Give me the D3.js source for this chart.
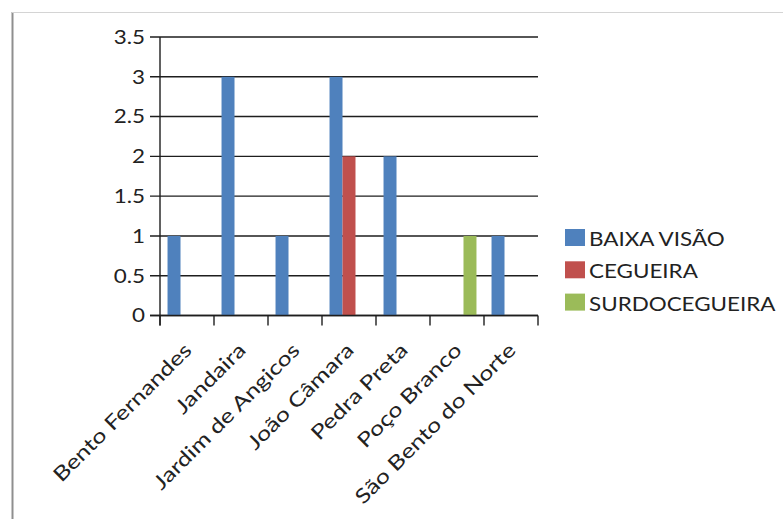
<!DOCTYPE html>
<html>
<head>
<meta charset="utf-8">
<script src="https://cdn.jsdelivr.net/npm/d3@7"></script>
<style>
  html, body { margin: 0; padding: 0; background: #fff; }
  svg { display: block; }
  text { font-family: Lato, "Open Sans", sans-serif; fill: #222; }
</style>
</head>
<body>
<svg id="chart" width="783" height="519"></svg>
<script>
// Municipalities on the x axis
const categories = ["Bento Fernandes", "Jandaira", "Jardim de Angicos", "João Câmara",
                    "Pedra Preta", "Poço Branco", "São Bento do Norte"];
// Series names and counts per municipality
const seriesNames = ["BAIXA VISÃO", "CEGUEIRA", "SURDOCEGUEIRA"];
const baixaVisao    = [1, 3, 1, 3, 2, 0, 1];
const cegueira      = [0, 0, 0, 2, 0, 0, 0];
const surdocegueira = [0, 0, 0, 0, 0, 1, 0];
const yTicks = [0, 0.5, 1, 1.5, 2, 2.5, 3, 3.5];

const colors = ["#4F81BD", "#C0504D", "#9BBB59"];
const seriesValues = [baixaVisao, cegueira, surdocegueira];

const svg = d3.select("#chart");
const fontSize = 19;
const stretch = 1.18;      // widen glyphs along the text direction
const labelSize = 20;      // rotated category labels
const labelStretch = 1.25;

// Outer frame (left and top rules)
svg.append("line").attr("x1", 12.5).attr("x2", 12.5).attr("y1", 12).attr("y2", 519)
  .attr("stroke", "#8f8f8f").attr("stroke-width", 2);
svg.append("line").attr("x1", 12).attr("x2", 783).attr("y1", 12.5).attr("y2", 12.5)
  .attr("stroke", "#d4d4d4").attr("stroke-width", 1);

const plot = { left: 160, right: 538, top: 37, bottom: 315.5 };

const x0 = d3.scaleBand().domain(categories).range([plot.left, plot.right]).padding(0);
const x1 = d3.scaleBand().domain(seriesNames).range([0, x0.bandwidth()])
  .paddingInner(0).paddingOuter(0.58);
const y = d3.scaleLinear().domain([0, 3.5]).range([plot.bottom, plot.top]);

const lineColor = "#1e1e1e";

// Horizontal gridlines with left tick stubs
svg.append("g").selectAll("line").data(yTicks).join("line")
  .attr("x1", plot.left - 10).attr("x2", plot.right)
  .attr("y1", d => y(d)).attr("y2", d => y(d))
  .attr("stroke", lineColor).attr("stroke-width", 1.4);

// Y tick labels
svg.append("g").selectAll("text").data(yTicks).join("text")
  .attr("transform", d => `translate(${plot.left - 15},${y(d)}) scale(${stretch},1)`)
  .attr("text-anchor", "end").attr("dy", "0.36em")
  .style("font-size", fontSize + "px")
  .text(d => d);

// Bars
const barData = [];
categories.forEach((c, i) => {
  seriesNames.forEach((s, j) => {
    barData.push({ cat: c, series: s, value: seriesValues[j][i], color: colors[j] });
  });
});
svg.append("g").selectAll("rect").data(barData.filter(d => d.value > 0)).join("rect")
  .attr("x", d => x0(d.cat) + x1(d.series))
  .attr("width", x1.bandwidth())
  .attr("y", d => y(d.value))
  .attr("height", d => y(0) - y(d.value))
  .attr("fill", d => d.color);

// Y axis line
svg.append("line").attr("x1", plot.left).attr("x2", plot.left)
  .attr("y1", plot.top).attr("y2", plot.bottom + 10)
  .attr("stroke", lineColor).attr("stroke-width", 1.4);

// X axis baseline and category boundary ticks
svg.append("line").attr("x1", plot.left - 10).attr("x2", plot.right)
  .attr("y1", y(0)).attr("y2", y(0))
  .attr("stroke", lineColor).attr("stroke-width", 1.4);
const boundaries = categories.map(c => x0(c)).concat([x0(categories[categories.length - 1]) + x0.bandwidth()]);
svg.append("g").selectAll("line").data(boundaries).join("line")
  .attr("x1", d => d).attr("x2", d => d)
  .attr("y1", y(0)).attr("y2", y(0) + 10)
  .attr("stroke", lineColor).attr("stroke-width", 1.4);

// Rotated category labels
svg.append("g").selectAll("text").data(categories).join("text")
  .attr("transform", d => `translate(${x0(d) + x0.bandwidth() / 2 + 6},${plot.bottom + 36}) rotate(-45) scale(${labelStretch},1)`)
  .attr("text-anchor", "end")
  .style("font-size", labelSize + "px")
  .text(d => d);

// Legend
const legend = svg.append("g").attr("transform", "translate(565,229)");
const rowH = 32.3;
legend.selectAll("rect").data(seriesNames).join("rect")
  .attr("x", 0).attr("y", (d, i) => i * rowH)
  .attr("width", 20).attr("height", 17)
  .attr("fill", (d, i) => colors[i]);
legend.selectAll("text").data(seriesNames).join("text")
  .attr("transform", (d, i) => `translate(24,${i * rowH + 17}) scale(${stretch},1)`)
  .style("font-size", fontSize + "px")
  .text(d => d);
</script>
</body>
</html>
